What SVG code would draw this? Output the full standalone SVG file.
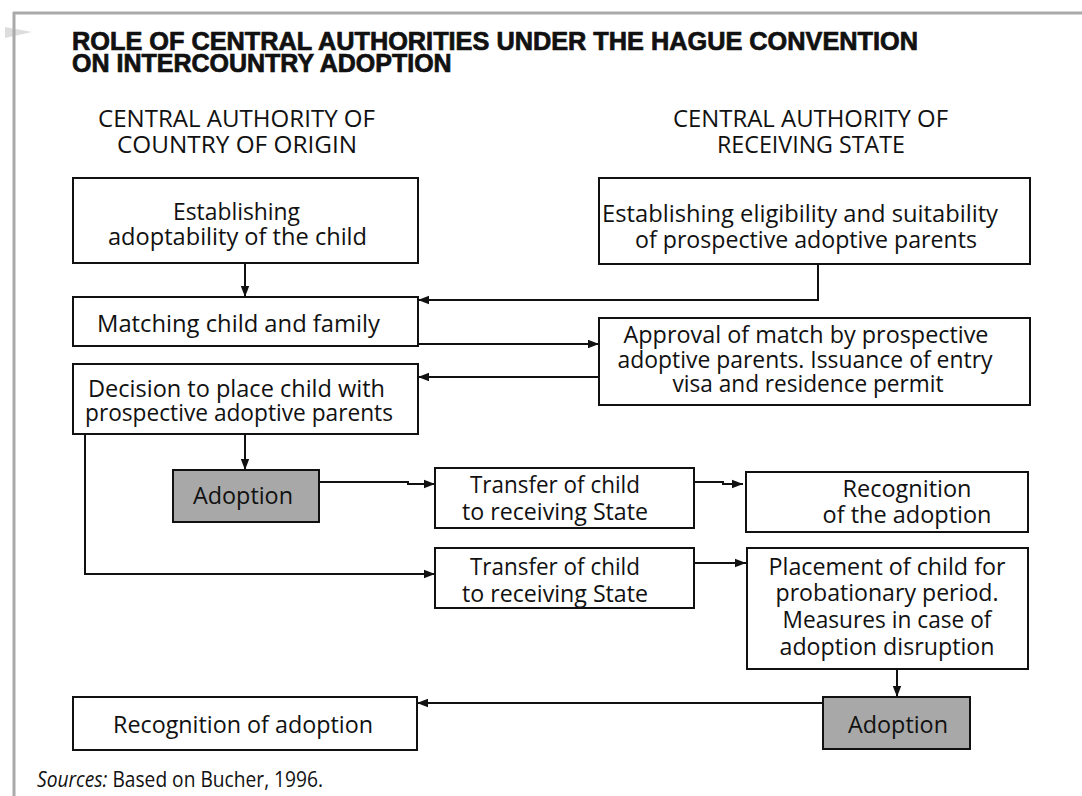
<svg xmlns="http://www.w3.org/2000/svg" width="1082" height="796" viewBox="0 0 1082 796">
<style>
.box{fill:#fff;stroke:#111;stroke-width:2}
.gray{fill:#a8a8a8;stroke:#111;stroke-width:2}
.t{font-family:"Open Sans","Noto Sans",sans-serif;font-size:24px;fill:#111;text-anchor:middle}
.h{font-family:"Open Sans","Noto Sans",sans-serif;font-size:24px;fill:#111;text-anchor:middle}
.title{font-family:"Liberation Sans",Arial,sans-serif;font-weight:bold;font-size:25px;fill:#111;stroke:#111;stroke-width:0.7}
.src{font-family:"Open Sans","Noto Sans",sans-serif;font-size:21px;fill:#111}
.c{fill:none;stroke:#111;stroke-width:2}
</style>
<defs>
<marker id="ah" markerUnits="userSpaceOnUse" markerWidth="12" markerHeight="10" refX="11" refY="5" orient="auto">
<path d="M0,0.8 L11,5 L0,9.2 z" fill="#111"/>
</marker>
</defs>
<rect width="1082" height="796" fill="#fff"/>
<g id="frame">
<polygon points="5,27 32,32 5,38" fill="#ddd"/>
<line x1="13" y1="13" x2="1082" y2="13" stroke="#aaa" stroke-width="3"/>
<line x1="14" y1="12" x2="14" y2="796" stroke="#aaa" stroke-width="3"/>
</g>
<g id="title">
<text class="title" x="72" y="50" textLength="846" lengthAdjust="spacingAndGlyphs">ROLE OF CENTRAL AUTHORITIES UNDER THE HAGUE CONVENTION</text>
<text class="title" x="72" y="72">ON INTERCOUNTRY ADOPTION</text>
</g>
<g id="headers">
<text class="h" x="236.5" y="127" textLength="277" lengthAdjust="spacingAndGlyphs">CENTRAL AUTHORITY OF</text>
<text class="h" x="237" y="153" textLength="240" lengthAdjust="spacingAndGlyphs">COUNTRY OF ORIGIN</text>
<text class="h" x="810.5" y="127" textLength="275" lengthAdjust="spacingAndGlyphs">CENTRAL AUTHORITY OF</text>
<text class="h" x="811" y="153" textLength="188" lengthAdjust="spacingAndGlyphs">RECEIVING STATE</text>
</g>
<g id="connectors">
<path class="c" d="M245,263 V297" marker-end="url(#ah)"/>
<path class="c" d="M818,264 V300 H418" marker-end="url(#ah)"/>
<path class="c" d="M418,344 H599" marker-end="url(#ah)"/>
<path class="c" d="M599,377 H418" marker-end="url(#ah)"/>
<path class="c" d="M245,434 V470" marker-end="url(#ah)"/>
<path class="c" d="M85,434 V574 H435" marker-end="url(#ah)"/>
<path class="c" d="M319,482 H408 V484 H435" marker-end="url(#ah)"/>
<path class="c" d="M694,482 H723 V484 H743" marker-end="url(#ah)"/>
<path class="c" d="M694,563 H746" marker-end="url(#ah)"/>
<path class="c" d="M897,669 V697" marker-end="url(#ah)"/>
<path class="c" d="M823,703 H417" marker-end="url(#ah)"/>
</g>
<g id="n-establishing-adoptability">
<rect class="box" x="73" y="178" width="345" height="85"/>
<text class="t" x="236.5" y="220" textLength="127" lengthAdjust="spacingAndGlyphs">Establishing</text>
<text class="t" x="237.5" y="245" textLength="259" lengthAdjust="spacingAndGlyphs">adoptability of the child</text>
</g>
<g id="n-matching">
<rect class="box" x="73" y="297" width="345" height="49"/>
<text class="t" x="238.5" y="332" textLength="283" lengthAdjust="spacingAndGlyphs">Matching child and family</text>
</g>
<g id="n-decision">
<rect class="box" x="73" y="364" width="345" height="70"/>
<text class="t" x="236.5" y="397" textLength="297" lengthAdjust="spacingAndGlyphs">Decision to place child with</text>
<text class="t" x="239" y="421" textLength="308" lengthAdjust="spacingAndGlyphs">prospective adoptive parents</text>
</g>
<g id="n-eligibility">
<rect class="box" x="599" y="178" width="431" height="86"/>
<text class="t" x="800" y="222" textLength="396" lengthAdjust="spacingAndGlyphs">Establishing eligibility and suitability</text>
<text class="t" x="806" y="248" textLength="342" lengthAdjust="spacingAndGlyphs">of prospective adoptive parents</text>
</g>
<g id="n-approval">
<rect class="box" x="599" y="318" width="431" height="87"/>
<text class="t" x="806" y="343" textLength="365" lengthAdjust="spacingAndGlyphs">Approval of match by prospective</text>
<text class="t" x="805" y="368" textLength="375" lengthAdjust="spacingAndGlyphs">adoptive parents. Issuance of entry</text>
<text class="t" x="808" y="392" textLength="271" lengthAdjust="spacingAndGlyphs">visa and residence permit</text>
</g>
<g id="n-adoption-origin">
<rect class="gray" x="173" y="470" width="146" height="52"/>
<text class="t" x="243" y="504" textLength="100" lengthAdjust="spacingAndGlyphs">Adoption</text>
</g>
<g id="n-transfer-1">
<rect class="box" x="435" y="468" width="259" height="60"/>
<text class="t" x="555" y="493" textLength="170" lengthAdjust="spacingAndGlyphs">Transfer of child</text>
<text class="t" x="555" y="520" textLength="186" lengthAdjust="spacingAndGlyphs">to receiving State</text>
</g>
<g id="n-recognition-of-the-adoption">
<rect class="box" x="746" y="472" width="282" height="60"/>
<text class="t" x="907" y="497" textLength="129" lengthAdjust="spacingAndGlyphs">Recognition</text>
<text class="t" x="907" y="523" textLength="169" lengthAdjust="spacingAndGlyphs">of the adoption</text>
</g>
<g id="n-transfer-2">
<rect class="box" x="435" y="548" width="259" height="60"/>
<text class="t" x="555" y="575" textLength="170" lengthAdjust="spacingAndGlyphs">Transfer of child</text>
<text class="t" x="555" y="602" textLength="186" lengthAdjust="spacingAndGlyphs">to receiving State</text>
</g>
<g id="n-placement">
<rect class="box" x="747" y="548" width="281" height="121"/>
<text class="t" x="887" y="575" textLength="237" lengthAdjust="spacingAndGlyphs">Placement of child for</text>
<text class="t" x="887" y="601" textLength="223" lengthAdjust="spacingAndGlyphs">probationary period.</text>
<text class="t" x="887" y="628" textLength="209" lengthAdjust="spacingAndGlyphs">Measures in case of</text>
<text class="t" x="887" y="655" textLength="215" lengthAdjust="spacingAndGlyphs">adoption disruption</text>
</g>
<g id="n-adoption-receiving">
<rect class="gray" x="823" y="697" width="147" height="52"/>
<text class="t" x="898" y="733" textLength="100" lengthAdjust="spacingAndGlyphs">Adoption</text>
</g>
<g id="n-recognition-of-adoption">
<rect class="box" x="73" y="697" width="344" height="53"/>
<text class="t" x="243" y="733" textLength="260" lengthAdjust="spacingAndGlyphs">Recognition of adoption</text>
</g>
<g id="sources">
<text class="src" x="37" y="787" textLength="286" lengthAdjust="spacingAndGlyphs"><tspan font-style="italic">Sources:</tspan> Based on Bucher, 1996.</text>
</g>
</svg>
